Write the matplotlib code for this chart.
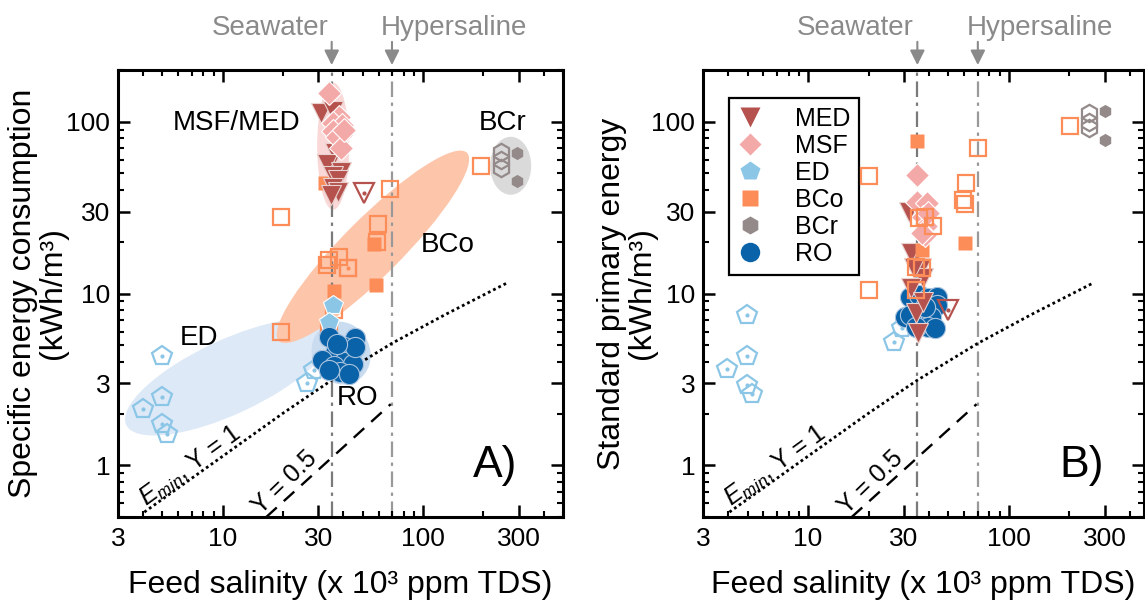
import matplotlib
matplotlib.use('Agg')
import matplotlib.pyplot as plt
from matplotlib.lines import Line2D
from matplotlib.patches import Ellipse
from matplotlib.ticker import FixedLocator, LogLocator, NullFormatter, FixedFormatter
from matplotlib.transforms import IdentityTransform, blended_transform_factory

plt.rcParams['font.family'] = ['Liberation Sans', 'DejaVu Sans']
plt.rcParams['mathtext.fontset'] = 'custom'
plt.rcParams['mathtext.rm'] = 'Liberation Sans'
plt.rcParams['mathtext.it'] = 'Liberation Sans:italic'

# ---- shared curves -------------------------------------------------------
emin_x = [4.06, 10, 20, 35, 70, 130, 262]
emin_y = [0.534, 1.13, 2.01, 3.13, 5.13, 7.57, 11.5]
half_x = [16.5, 69]
half_y = [0.5, 2.27]
seawater_x = 35
hypersaline_x = 70

# ---- panel A: specific energy consumption --------------------------------
a_med_x = [31, 35.7, 36.5, 33.2, 38.9, 35.7, 37.6, 35.7, 37.6, 34.8]
a_med_y = [112, 115, 66, 57, 51, 48, 46, 41, 39, 37.6]
a_med_open_x = [50.6]
a_med_open_y = [38.4]
a_msf_x = [34, 38.1, 35.7, 39.6, 35.7, 38.9, 37.4, 38.9, 40.5]
a_msf_y = [147, 107, 98, 96, 88, 84, 81, 70, 90]
a_bco_x = [32.3, 57, 36.1, 58.1]
a_bco_y = [44, 19.5, 10.4, 11.2]
a_bco_open_x = [19.5, 194, 68.7, 59.6, 59, 34, 38.2, 42, 33.3, 19.5, 36.1, 34]
a_bco_open_y = [27.8, 54.9, 40.5, 25.4, 20, 15.7, 16.4, 14, 14.7, 6.0, 8.0, 6.1]
a_bco_dot_x = [42]
a_bco_dot_y = [14]
a_ed_x = [35.7, 34.0]
a_ed_y = [8.6, 6.8]
a_ed_open_x = [4.97, 4.97, 3.99, 4.97, 5.26, 26.2, 28.7]
a_ed_open_y = [4.32, 2.5, 2.12, 1.75, 1.53, 3.0, 3.58]
a_bcr_x = [296, 296]
a_bcr_y = [65.6, 44.9]
a_bcr_open_x = [246, 246, 246]
a_bcr_open_y = [67, 60, 54]
a_ro_x = [34.0, 45.8, 40.4, 36.4, 43.6, 31.3, 40.4, 35.8, 44.6, 38.5, 42.9, 34.0, 45.8, 37.2]
a_ro_y = [5.6, 5.5, 4.9, 4.5, 4.5, 4.1, 4.0, 3.8, 3.9, 3.5, 3.4, 3.6, 4.9, 5.1]

# ---- panel B: standard primary energy ------------------------------------
b_med_x = [31.8, 34.6, 32.7, 36.7, 37.3, 32.7, 34.6, 35.2, 33.5, 37.3]
b_med_y = [30, 17.1, 17.1, 14.0, 12.3, 10.7, 7.66, 5.86, 14, 8.97]
b_med_open_x = [49.6]
b_med_open_y = [8.0]
b_msf_x = [35, 35, 39, 37.3, 38.6, 38, 37, 39.6]
b_msf_y = [49, 34.3, 33.6, 28, 24.6, 22, 22.5, 29.5]
b_bco_x = [35, 60.4, 37]
b_bco_y = [76.8, 19.6, 18]
b_bco_open_x = [201, 70, 20, 61, 59, 60.5, 35.5, 38.4, 42, 34.6, 37, 34.6, 20]
b_bco_open_y = [94.8, 70, 48, 44, 35, 33, 27.4, 28, 24.6, 14.3, 14, 10.5, 10.5]
b_ed_x = [35.5]
b_ed_y = [13]
b_ed_open_x = [4.99, 4.99, 3.97, 4.99, 5.24, 26.9, 29.3]
b_ed_open_y = [7.5, 4.32, 3.63, 2.93, 2.6, 5.24, 6.27]
b_bcr_x = [301, 301]
b_bcr_y = [115, 78.6]
b_bcr_open_x = [251, 251, 251]
b_bcr_open_y = [112, 100, 92]
b_ro_x = [32.2, 35.8, 39.6, 43.6, 43.6, 30.3, 32.3, 37.3, 41, 39.6, 34.6, 42.8, 38.3]
b_ro_y = [9.6, 9.8, 9.4, 9.6, 8.6, 7.3, 7.5, 7.3, 7.3, 6.4, 6.4, 6.26, 8.4]

legend_labels = ['MED', 'MSF', 'ED', 'BCo', 'BCr', 'RO']
x_ticks = [3, 10, 30, 100, 300]
y_ticks = [1, 3, 10, 30, 100]

MED = '#b5524e'
MSF = '#f4a9a9'
ED = '#8cc6e6'
BCO = '#fc8d59'
BCR = '#948a89'
RO = '#0a62a8'
GREY = '#8a8a8a'


def add_blob(ax, cx, cy, width, height, angle, color):
    centre = ax.transData.transform((cx, cy))
    ax.add_patch(Ellipse(centre, width, height, angle=angle, transform=IdentityTransform(),
                         facecolor=color, edgecolor='none', zorder=0.5))


def open_pts(ax, x, y, marker, ms, color, z, dot=False):
    ax.plot(x, y, ls='none', marker=marker, ms=ms, mfc='none', mec=color, mew=1.6, zorder=z)
    if dot:
        ax.plot(x, y, ls='none', marker='o', ms=3, mfc=color, mec='none', zorder=z)


def filled_pts(ax, x, y, marker, ms, color, edge, z):
    ax.plot(x, y, ls='none', marker=marker, ms=ms, mfc=color, mec=edge, mew=0.8, zorder=z)


def style_axes(ax, ylabel, label_x):
    ax.set_xscale('log')
    ax.set_yscale('log')
    ax.xaxis.set_major_locator(FixedLocator(x_ticks))
    ax.xaxis.set_major_formatter(FixedFormatter([str(v) for v in x_ticks]))
    ax.xaxis.set_minor_locator(LogLocator(subs=range(2, 10)))
    ax.xaxis.set_minor_formatter(NullFormatter())
    ax.yaxis.set_major_locator(FixedLocator(y_ticks))
    ax.yaxis.set_major_formatter(FixedFormatter([str(v) for v in y_ticks]))
    ax.yaxis.set_minor_locator(LogLocator(subs=range(2, 10)))
    ax.yaxis.set_minor_formatter(NullFormatter())
    ax.tick_params(which='both', direction='in', top=True, right=True, labelsize=19)
    ax.tick_params(which='major', length=8.5, width=1.8)
    ax.tick_params(which='minor', length=4.5, width=1.5)
    ax.tick_params(axis='x', pad=7)
    ax.tick_params(axis='y', pad=5.5)
    for spine in ax.spines.values():
        spine.set_linewidth(2.2)
    ax.set_xlabel('Feed salinity (x 10³ ppm TDS)', fontsize=23)
    ax.xaxis.set_label_coords(0.5, -0.118)
    ax.set_ylabel(ylabel, fontsize=23, linespacing=1.0)
    ax.yaxis.set_label_coords(label_x, 0.5)


def common_marks(ax, letter):
    top = blended_transform_factory(ax.transData, ax.transAxes)
    for xv, col in [(seawater_x, '#7a7a7a'), (hypersaline_x, '#999999')]:
        ax.axvline(xv, color=col, lw=1.6, ls=(0, (7, 2.5, 1.5, 2.5)), zorder=1)
        ax.annotate('', xy=(xv, 1.011), xytext=(xv, 1.063), xycoords=top, textcoords=top,
                    arrowprops=dict(arrowstyle='-|>', color=GREY, lw=1.5, mutation_scale=22,
                                    shrinkA=0, shrinkB=0), annotation_clip=False)
    ax.text(17.2, 1.078, 'Seawater', transform=top, ha='center', va='baseline',
            fontsize=20, color=GREY, clip_on=False)
    ax.text(143, 1.078, 'Hypersaline', transform=top, ha='center', va='baseline',
            fontsize=20, color=GREY, clip_on=False)
    ax.plot(emin_x, emin_y, color='black', lw=2, ls=(0, (1, 1.1)), zorder=2)
    ax.plot(half_x, half_y, color='black', lw=1.7, ls=(0, (6, 4)), zorder=2)
    ax.text(6.9, 0.98, r'$E_{min}$, Y = 1', rotation=36, ha='center', va='center',
            fontsize=18, rotation_mode='anchor')
    ax.text(20.5, 0.80, 'Y = 0.5', rotation=44, ha='center', va='center',
            fontsize=18, rotation_mode='anchor')
    ax.text(230, 1.0, letter, ha='center', va='center', fontsize=32)


fig = plt.figure(figsize=(11.45, 6.03), dpi=100)
ax_a = fig.add_axes([0.10306, 0.14262, 0.38865, 0.74129])
ax_b = fig.add_axes([0.61397, 0.14262, 0.38515, 0.74129])
ax_a.set_xlim(3, 500)
ax_b.set_xlim(3, 470)
for ax in (ax_a, ax_b):
    ax.set_ylim(0.5, 200)

# panel A
style_axes(ax_a, 'Specific energy consumption\n(kWh/m³)', -0.113)
add_blob(ax_a, 10.7, 3.26, 226, 74, 25, '#dde9f7')
add_blob(ax_a, 56.2, 18.7, 266, 58, 45, '#fdc6aa')
add_blob(ax_a, 39, 4.5, 58, 64, 25, '#c9dcf0')
add_blob(ax_a, 35.6, 72, 32, 127, 0, '#fad8d8')
add_blob(ax_a, 274, 55.4, 41, 58, 0, '#dadada')
common_marks(ax_a, 'A)')
open_pts(ax_a, a_ed_open_x, a_ed_open_y, 'p', 15, ED, 3, dot=True)
open_pts(ax_a, a_bco_open_x, a_bco_open_y, 's', 12, BCO, 3)
open_pts(ax_a, a_bco_dot_x, a_bco_dot_y, 's', 12, BCO, 3, dot=True)
filled_pts(ax_a, a_bco_x, a_bco_y, 's', 10, BCO, 'none', 3)
filled_pts(ax_a, a_med_x, a_med_y, 'v', 14, MED, '#e9d2d0', 4)
open_pts(ax_a, a_med_open_x, a_med_open_y, 'v', 14, MED, 4, dot=True)
filled_pts(ax_a, a_msf_x, a_msf_y, 'D', 12, MSF, 'white', 5)
filled_pts(ax_a, a_ed_x, a_ed_y, 'p', 15, ED, 'white', 5)
filled_pts(ax_a, a_ro_x, a_ro_y, 'o', 14.5, RO, '#a9c3df', 5)
open_pts(ax_a, a_bcr_open_x, a_bcr_open_y, 'h', 12.5, BCR, 5)
filled_pts(ax_a, a_bcr_x, a_bcr_y, 'h', 9.5, BCR, 'none', 5)
ax_a.text(11.7, 98, 'MSF/MED', ha='center', va='center', fontsize=20)
ax_a.text(249, 98, 'BCr', ha='center', va='center', fontsize=20)
ax_a.text(133, 19.2, 'BCo', ha='center', va='center', fontsize=20)
ax_a.text(7.6, 5.48, 'ED', ha='center', va='center', fontsize=20)
ax_a.text(47.2, 2.45, 'RO', ha='center', va='center', fontsize=20)

# panel B
style_axes(ax_b, 'Standard primary energy\n(kWh/m³)', -0.105)
common_marks(ax_b, 'B)')
open_pts(ax_b, b_ed_open_x, b_ed_open_y, 'p', 15, ED, 3, dot=True)
filled_pts(ax_b, b_ro_x, b_ro_y, 'o', 14.5, RO, '#a9c3df', 3)
filled_pts(ax_b, b_ed_x, b_ed_y, 'p', 12, ED, 'white', 3)
filled_pts(ax_b, b_med_x, b_med_y, 'v', 14, MED, '#e9d2d0', 4)
open_pts(ax_b, b_med_open_x, b_med_open_y, 'v', 14, MED, 4, dot=True)
filled_pts(ax_b, b_bco_x, b_bco_y, 's', 10, BCO, 'none', 4)
filled_pts(ax_b, b_msf_x, b_msf_y, 'D', 12, MSF, 'white', 5)
open_pts(ax_b, b_bco_open_x, b_bco_open_y, 's', 12, BCO, 6)
open_pts(ax_b, b_bcr_open_x, b_bcr_open_y, 'h', 12.5, BCR, 5)
filled_pts(ax_b, b_bcr_x, b_bcr_y, 'h', 9.5, BCR, 'none', 5)

handles = [
    Line2D([], [], ls='none', marker='v', ms=14, mfc=MED, mec='none'),
    Line2D([], [], ls='none', marker='D', ms=11, mfc=MSF, mec='none'),
    Line2D([], [], ls='none', marker='p', ms=15, mfc=ED, mec='none'),
    Line2D([], [], ls='none', marker='s', ms=11, mfc=BCO, mec='none'),
    Line2D([], [], ls='none', marker='h', ms=13, mfc=BCR, mec='none'),
    Line2D([], [], ls='none', marker='o', ms=14, mfc=RO, mec='none'),
]
leg = ax_b.legend(handles, legend_labels, loc='upper left', bbox_to_anchor=(0.059, 0.937),
                  borderaxespad=0, fontsize=18, frameon=True, fancybox=False, framealpha=1,
                  edgecolor='black', handlelength=1.0, handletextpad=1.3, labelspacing=0.12,
                  borderpad=0.35)
leg.get_frame().set_linewidth(1.6)

fig.savefig('out.png', dpi=100)
